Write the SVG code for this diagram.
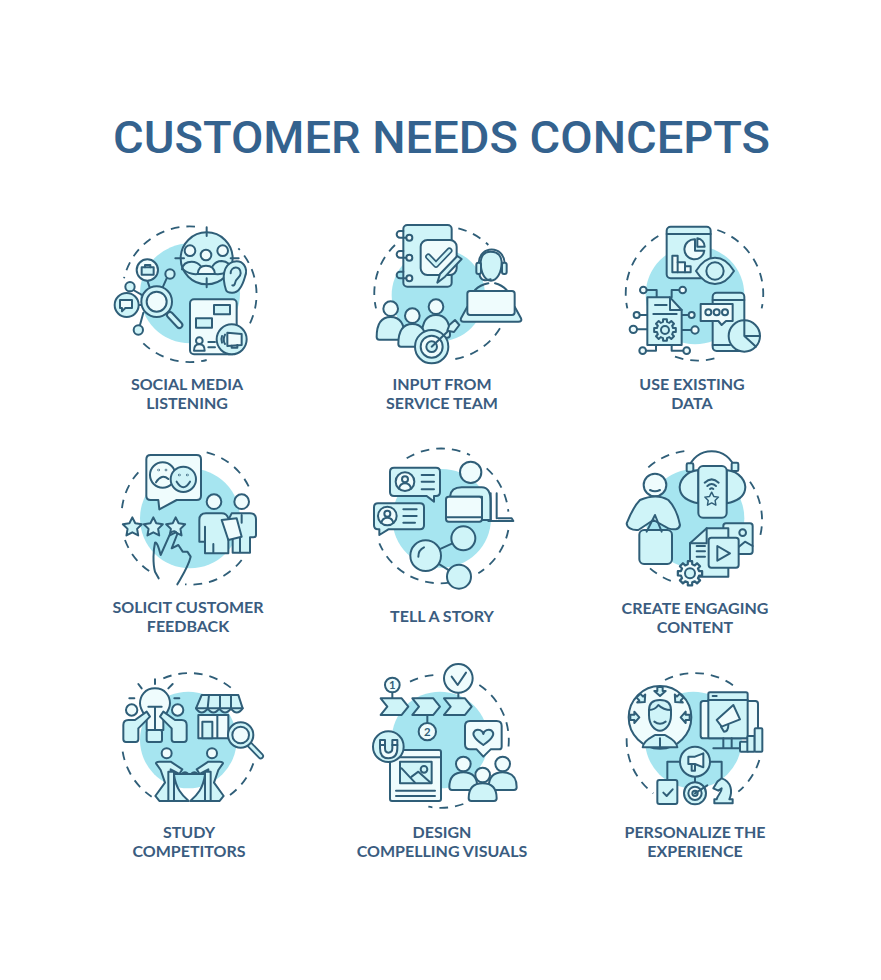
<svg xmlns="http://www.w3.org/2000/svg" xmlns:xlink="http://www.w3.org/1999/xlink" width="881" height="980" viewBox="0 0 881 980">
<style>
.t{font-family:Roboto,"Liberation Sans",sans-serif;font-weight:500;font-size:45px;fill:#34628e;text-anchor:middle}
.c{font-family:Lato,"Liberation Sans",sans-serif;font-weight:700;font-size:16px;fill:#3a5c80;text-anchor:middle}
.i{fill:none;stroke:#2f5e78;stroke-width:6;stroke-linecap:round;stroke-linejoin:round}
.bg{fill:#a6e5f0;stroke:none}
.l{fill:#cff4f8}
.w{fill:#effcfd}
.d{stroke-dasharray:26 21;stroke-linecap:butt;stroke-width:5.500}
.n{font-family:Lato,"Liberation Sans",sans-serif;font-weight:700;font-size:34px;fill:#2f5e78;stroke:none;text-anchor:middle}
.h{stroke:#cff4f8;stroke-width:9}
</style>
<defs>
<path id="gear" d="M32.5 -5.7L32.5 5.7L24.3 6L21.4 12.9L27 18.9L18.9 27L12.9 21.4L6 24.3L5.7 32.5L-5.7 32.5L-6 24.3L-12.9 21.4L-18.9 27L-27 18.9L-21.4 12.9L-24.3 6L-32.5 5.7L-32.5 -5.7L-24.3 -6L-21.4 -12.9L-27 -18.9L-18.9 -27L-12.9 -21.4L-6 -24.3L-5.7 -32.5L5.7 -32.5L6 -24.3L12.9 -21.4L18.9 -27L27 -18.9L21.4 -12.9L24.3 -6Z"/>
<path id="star" class="l" d="M0 -30L8.8 -12.1L28.5 -9.3L14.3 4.6L17.6 24.3L0 15L-17.6 24.3L-14.3 4.6L-28.5 -9.3L-8.8 -12.1Z"/>
<g id="pp"><path class="l" d="M-42 50C-42 18 -25 5 0 5C25 5 42 18 42 50Q42 58 34 58H-34Q-42 58 -42 50Z"/><circle class="w" cx="0" cy="-20" r="22"/></g>
<g id="pt"><path class="l" d="M-42 65C-42 22 -25 5 0 5C25 5 42 22 42 65Q42 73 34 73H-34Q-42 73 -42 65Z"/><circle class="w" cx="0" cy="-20" r="22"/></g>
<path id="ar" class="l" d="M-8 -14H8V-2H17L0 13L-17 -2H-8Z"/>
<g id="sit"><path class="l" d="M168 310Q168 305 178 305H212L247 328L238 342L212 328V423H178L166 408L195 368L182 330Z"/><rect class="l" x="205" y="335" width="17" height="88"/><path class="l" d="M222 345C228 385 245 405 266 423H222Z"/></g>
</defs>
<rect width="881" height="980" fill="#ffffff"/>
<text id="title" class="t" x="441.500" y="153" textLength="657" lengthAdjust="spacingAndGlyphs">CUSTOMER NEEDS CONCEPTS</text>

<g id="social-media-listening">
<g class="i" transform="translate(100 210) scale(.33333)">
<circle class="bg" cx="270" cy="250" r="150"/>
<path class="d" d="M450 340A202 202 0 0 0 415 115M285 50A202 202 0 0 0 72 205M130 400A202 202 0 0 0 320 450"/>
<circle class="l" cx="320" cy="145" r="78"/>
<path d="M320 52V78M320 205V232M226 145H252M392 145H416"/>
<circle class="w" cx="270" cy="122" r="16"/><circle class="w" cx="318" cy="135" r="16"/><circle class="w" cx="368" cy="122" r="16"/>
<path d="M246 178Q250 155 275 155Q292 155 302 168M338 168Q348 153 365 153Q390 155 396 178M248 178Q270 195 293 192M345 192Q375 195 394 178"/>
<path class="w" d="M293 192Q295 167 318 167Q343 167 345 192Z"/>
<path class="l" d="M378 240C365 200 370 165 400 155C430 148 445 175 435 200C428 225 415 250 395 248C387 248 380 246 378 240Z"/>
<path d="M392 190C392 168 422 165 422 190C422 205 405 205 405 220Q403 228 397 226"/>
<path d="M142 212L150 235M200 205L188 232M100 240L128 256M130 308L120 345M116 285L125 285"/>
<path d="M210 315L238 345" style="stroke-width:24"/><path d="M210 315L238 345" style="stroke:#cff4f8;stroke-width:12"/>
<circle class="l" cx="170" cy="275" r="46"/><circle class="w" cx="170" cy="275" r="30"/>
<circle class="w" cx="142" cy="180" r="32"/><path class="l" d="M125 172H161V194H125Z"/><path d="M135 172V165H151V172"/>
<circle class="l" cx="210" cy="192" r="14"/><circle class="l" cx="90" cy="230" r="14"/><circle class="l" cx="115" cy="360" r="14"/>
<circle class="l" cx="80" cy="285" r="36"/><path class="w" d="M60 270H96V294H76L66 304V294H60Z"/>
<rect class="w" x="270" y="268" width="140" height="165" rx="12"/>
<rect class="l" x="342" y="285" width="48" height="28"/><rect class="l" x="288" y="325" width="48" height="28"/>
<circle cx="298" cy="392" r="10"/><path d="M282 422Q282 403 298 403Q314 403 314 422Z"/><path d="M325 396H345M325 412H345"/>
<circle class="l" cx="395" cy="388" r="45"/>
<path class="w" d="M382 368L425 372V405L382 408Z"/><path d="M375 374Q367 388 375 402M366 378Q362 388 366 398M395 407V413H412V405"/>
</g>
<text class="c" x="187" y="390">SOCIAL MEDIA</text><text class="c" x="187" y="409">LISTENING</text>
</g>

<g id="input-from-service-team">
<g class="i" transform="translate(360 210) scale(.33333)">
<circle class="bg" cx="235" cy="255" r="140"/>
<path class="d" d="M295 55A200 200 0 0 1 385 105M105 105A200 200 0 0 0 48 295M420 355A200 200 0 0 1 280 448"/>
<rect class="l" x="130" y="45" width="145" height="185" rx="12"/>
<path d="M130 63H120A10 10 0 0 0 120 83H139M130 123H120A10 10 0 0 0 120 143H139M130 185H120A10 10 0 0 0 120 205H139"/>
<circle class="w" cx="148" cy="83" r="9"/><circle class="w" cx="148" cy="143" r="9"/><circle class="w" cx="148" cy="205" r="9"/>
<rect class="w" x="182" y="90" width="108" height="105" rx="20"/>
<path d="M205 140L228 164L268 122" style="stroke-width:19"/><path d="M205 140L228 164L268 122" class="h"/>
<path class="l" d="M305 147L255 200L232 218L240 192L292 138Z"/>
<path d="M345 240Q360 225 385 220M440 240Q425 225 405 220"/>
<path class="l" d="M362 155Q365 125 392 125Q422 125 425 155C425 190 410 212 393 212C375 212 362 190 362 155Z"/>
<path d="M356 160C358 105 432 105 434 160M358 192C362 215 378 212 392 208"/>
<rect class="l" x="349" y="158" width="14" height="34" rx="6"/><rect class="l" x="426" y="158" width="14" height="34" rx="6"/>
<path class="l" d="M322 290L303 325Q300 335 311 335H475Q487 335 483 325L464 290Z"/>
<rect class="w" x="322" y="243" width="142" height="72" rx="8"/>
<use xlink:href="#pt" href="#pt" x="92" y="316"/><use xlink:href="#pt" href="#pt" x="228" y="310"/><use xlink:href="#pt" href="#pt" x="157" y="337"/>
<circle class="l" cx="215" cy="410" r="50"/><circle class="w" cx="215" cy="410" r="33"/><circle class="l" cx="215" cy="410" r="16"/>
<path d="M215 410L278 350"/><path class="l" d="M268 345L285 330L298 345L282 366L262 362Z"/>
</g>
<text class="c" x="442" y="390">INPUT FROM</text><text class="c" x="442" y="409">SERVICE TEAM</text>
</g>

<g id="use-existing-data">
<g class="i" transform="translate(360 210) scale(.33333)">
<circle class="bg" cx="1005" cy="255" r="148"/>
<path class="d" d="M895 78A202 202 0 0 0 802 295M1072 60A202 202 0 0 1 1205 295M945 440A202 202 0 0 0 1065 445"/>
<rect class="l" x="920" y="50" width="132" height="155" rx="12"/><path d="M920 72H1052"/>
<path class="w" d="M1005 88A30 30 0 1 0 1033 122H1005Z"/><path class="w" d="M1012 85A25 25 0 0 1 1034 110H1012Z"/>
<path class="w" d="M937 137V187H992V169H975V157H953V137Z"/><path d="M953 157V187M975 169V187"/>
<path class="l" d="M1008 183C1040 130 1090 130 1122 183C1090 235 1040 235 1008 183Z"/><circle class="l" cx="1065" cy="183" r="26"/>
<path d="M860 240H890V262M958 240H935V262M965 315H986M965 360H994M839 315H862M831 358H862M858 422H888V405M970 422H935V405"/>
<circle class="w" cx="850" cy="240" r="10"/><circle class="w" cx="968" cy="240" r="10"/><circle class="w" cx="995" cy="315" r="9"/><circle class="w" cx="1005" cy="360" r="11"/><circle class="w" cx="830" cy="315" r="9"/><circle class="w" cx="820" cy="358" r="11"/><circle class="w" cx="848" cy="422" r="10"/><circle class="w" cx="980" cy="422" r="10"/>
<path class="l" d="M862 262H930L965 300V405H862Z"/><path d="M930 262V300H965M885 285H920M880 312H950"/>
<use xlink:href="#gear" href="#gear" x="915" y="360"/><circle cx="915" cy="360" r="12"/>
<rect class="l" x="1058" y="248" width="95" height="175" rx="12"/><path d="M1058 270H1153M1058 405H1110"/>
<path class="w" d="M1022 282H1118V333H1098L1085 345L1075 333H1022Z"/>
<circle cx="1045" cy="307" r="9"/><circle cx="1070" cy="307" r="9"/><circle cx="1095" cy="307" r="9"/>
<circle class="l" cx="1153" cy="378" r="47"/><path d="M1153 378V332M1153 378H1200M1153 378L1188 410"/>
</g>
<text class="c" x="692" y="390">USE EXISTING</text><text class="c" x="692" y="409">DATA</text>
</g>

<g id="solicit-customer-feedback">
<g class="i" transform="translate(100 440) scale(.33333)">
<circle class="bg" cx="270" cy="235" r="150"/>
<path class="d" d="M320 37A192 192 0 0 1 450 148M115 97A192 192 0 0 0 65 215M75 300A192 192 0 0 0 150 395M425 360A192 192 0 0 1 255 433"/>
<path class="w" d="M152 45H290Q303 45 303 58V167Q303 180 290 180H230L178 208L175 180H152Q139 180 139 167V58Q139 45 152 45Z"/>
<circle class="w" cx="188" cy="105" r="38"/><path d="M168 127Q185 100 205 117"/><circle cx="176" cy="90" r="1"/><circle cx="198" cy="90" r="1"/>
<circle class="l" cx="250" cy="118" r="38"/><path d="M230 125Q250 158 270 125"/><circle cx="238" cy="105" r="1"/><circle cx="262" cy="105" r="1"/>
<use xlink:href="#star" href="#star" x="97" y="262"/><use xlink:href="#star" href="#star" x="160" y="262"/><use xlink:href="#star" href="#star" x="227" y="262"/>
<path d="M176 415L165 395C158 370 160 330 165 308C172 305 178 330 182 345L212 278Q225 268 232 282L215 325L235 315L248 335L262 335L272 350C265 380 245 410 232 433"/>
<circle class="w" cx="342" cy="185" r="22"/><circle class="w" cx="425" cy="185" r="22"/>
<path class="l" d="M395 220H450Q468 220 468 238V285Q468 292 460 292H450V338H398V295H385V240Z"/>
<path d="M425 225V248M420 295V335"/>
<path class="l" d="M298 305V240Q298 220 318 220H365Q380 220 385 235V340H315V305Z"/>
<path d="M315 260V305M340 312V338"/>
<path class="w" d="M365 240L410 235L425 290L385 300Z"/>
</g>
<text class="c" x="188" y="613">SOLICIT CUSTOMER</text><text class="c" x="188" y="632">FEEDBACK</text>
</g>

<g id="tell-a-story">
<g class="i" transform="translate(360 440) scale(.33333)">
<circle class="bg" cx="245" cy="235" r="148"/>
<path class="d" d="M140 55A198 198 0 0 1 330 45M380 85A198 198 0 0 1 445 215M445 270A198 198 0 0 1 355 400M268 428A198 198 0 0 1 58 310"/>
<path class="l" d="M102 83H228Q240 83 240 95V156Q240 168 228 168H222L222 185L200 168H102Q90 168 90 156V95Q90 83 102 83Z"/>
<circle class="w" cx="135" cy="125" r="28"/><circle cx="135" cy="118" r="9"/><path d="M117 146Q120 130 135 130Q150 130 153 146M185 105H222M185 125H222M185 148H222"/>
<path class="l" d="M54 190H180Q192 190 192 202V256Q192 268 180 268H85L58 285V268H54Q42 268 42 256V202Q42 190 54 190Z"/>
<circle class="w" cx="82" cy="228" r="28"/><circle cx="82" cy="221" r="9"/><path d="M64 249Q67 233 82 233Q97 233 100 249M130 208H170M130 228H170M130 248H165"/>
<circle class="w" cx="332" cy="97" r="32"/>
<path class="l" d="M270 170C272 150 285 142 305 142H365C385 142 392 160 392 185V240H366V170Z"/>
<path d="M392 160V240M410 160V235M385 243H460L455 235H415"/>
<rect class="w" x="258" y="170" width="108" height="75" rx="8"/><path d="M258 232H366"/>
<path d="M197 347L310 295M197 347L297 410"/>
<circle class="l" cx="197" cy="347" r="46"/><path d="M175 350Q175 330 192 322"/>
<circle class="l" cx="310" cy="295" r="36"/><circle class="l" cx="297" cy="410" r="36"/>
</g>
<text class="c" x="442" y="622">TELL A STORY</text>
</g>

<g id="create-engaging-content">
<g class="i" transform="translate(360 440) scale(.33333)">
<circle class="bg" cx="1005" cy="235" r="148"/>
<path class="d" d="M865 82A202 202 0 0 1 990 32M1170 125A202 202 0 0 1 1200 290M870 385A202 202 0 0 0 940 425"/>
<path d="M985 90C1000 15 1110 15 1125 90"/>
<rect class="l" x="980" y="70" width="20" height="25" rx="4"/><rect class="l" x="1115" y="68" width="20" height="25" rx="4"/>
<path class="l" d="M1015 90C975 95 955 125 960 150C965 175 990 185 1015 190Z"/><path class="l" d="M1100 90C1140 95 1160 125 1155 150C1150 175 1125 185 1100 190Z"/>
<rect class="l" x="1015" y="78" width="85" height="155" rx="14"/>
<path d="M1034 128Q1055 108 1076 128M1042 138Q1055 126 1068 138M1050 147Q1055 143 1060 147"/>
<use xlink:href="#star" href="#star" transform="translate(1055 178) scale(.72)"/>
<circle class="w" cx="885" cy="135" r="34"/><path d="M870 150Q885 158 900 150"/>
<path class="l" d="M840 180C875 165 900 165 925 180C945 200 955 230 960 255C958 270 940 270 925 265L880 240L835 270C815 272 800 262 800 250C810 225 820 200 840 180Z"/>
<rect class="l" x="838" y="270" width="98" height="102" rx="14"/>
<path d="M860 275L885 225L905 275"/>
<rect class="l" x="1090" y="250" width="88" height="92" rx="8"/><circle cx="1148" cy="278" r="10"/><path d="M1135 322L1155 305L1178 318"/>
<path class="l" d="M1040 265H1105V410H990V310Z"/><path d="M1040 265V310H990M1010 318H1035M1010 334H1035M1010 350H1035"/>
<rect class="l" x="1046" y="293" width="90" height="90" rx="8"/><path d="M1072 318V362L1110 340Z"/>
<use xlink:href="#gear" href="#gear" class="w" transform="translate(990 400) scale(1.12)"/><circle class="l" cx="990" cy="400" r="15"/>
</g>
<text class="c" x="695" y="614">CREATE ENGAGING</text><text class="c" x="695" y="633">CONTENT</text>
</g>

<g id="study-competitors">
<g class="i" transform="translate(100 660) scale(.33333)">
<circle class="bg" cx="265" cy="240" r="145"/>
<path class="d" d="M190 55A200 200 0 0 1 395 85M68 275A200 200 0 0 0 155 410M460 310A200 200 0 0 1 390 405"/>
<path d="M165 58V72M115 72L125 85M218 72L205 85M88 115H103M223 115H238"/>
<path class="w" d="M165 85C135 85 120 108 120 130C120 150 135 165 140 175V210H190V175C195 165 210 150 210 130C210 108 195 85 165 85Z"/>
<rect class="l" x="140" y="210" width="46" height="36" rx="6"/><path d="M145 140H185M165 140V210"/>
<circle class="w" cx="95" cy="150" r="17"/><circle class="w" cx="233" cy="150" r="17"/>
<path class="l" d="M70 238V195Q70 180 85 180H105L140 155L150 170L115 205V238Q115 246 107 246H78Q70 246 70 238Z"/>
<path class="l" d="M260 238V195Q260 180 245 180H225L190 155L180 170L215 205V238Q215 246 223 246H252Q260 246 260 238Z"/>
<path class="w" d="M295 165V235H352V165ZM352 235H385V165H352Z"/>
<rect class="l" x="307" y="185" width="30" height="50"/>
<path class="l" d="M305 105H415L428 145Q410 170 393 145Q375 170 358 145Q340 170 323 145Q305 170 288 145Z"/><path d="M288 145H428M327 105L323 145M360 105V145M393 105L393 145"/>
<path d="M450 255L482 288" style="stroke-width:20"/><path d="M450 255L482 288" style="stroke:#cff4f8;stroke-width:9"/>
<circle class="l" cx="422" cy="225" r="38"/><circle class="w" cx="422" cy="225" r="25"/>
<circle class="w" cx="200" cy="280" r="15"/><circle class="w" cx="336" cy="280" r="15"/>
<path d="M222 342H315M245 342Q255 332 265 342M273 342Q283 332 293 342"/>
<use xlink:href="#sit" href="#sit"/>
<use xlink:href="#sit" href="#sit" transform="translate(537 0) scale(-1 1)"/>
</g>
<text class="c" x="189" y="838">STUDY</text><text class="c" x="189" y="857">COMPETITORS</text>
</g>

<g id="design-compelling-visuals">
<g class="i" transform="translate(360 660) scale(.33333)">
<circle class="bg" cx="240" cy="240" r="145"/>
<path class="d" d="M150 65A200 200 0 0 1 225 45M358 75A200 200 0 0 1 445 265M310 432A200 200 0 0 1 205 440"/>
<path d="M97 97V135M202 140V190M295 98V140"/>
<path class="l" d="M62 115H125L145 140L125 165H62L82 140Z"/>
<path class="l" d="M157 115H220L240 140L220 165H157L177 140Z"/>
<path class="l" d="M252 115H315L335 140L315 165H252L272 140Z"/>
<circle class="w" cx="97" cy="75" r="22"/><text class="n" x="97" y="87">1</text>
<circle class="w" cx="202" cy="215" r="26"/><text class="n" x="202" y="227">2</text>
<circle class="w" cx="295" cy="55" r="43"/><path d="M275 50L293 75L318 38"/>
<rect class="w" x="90" y="270" width="153" height="153" rx="6"/><path d="M90 292H243"/>
<rect class="l" x="120" y="305" width="95" height="65"/><circle cx="192" cy="328" r="10"/><path d="M125 325L165 368M155 350L175 335L212 368"/>
<path d="M108 392H225M108 408H225"/>
<circle class="l" cx="85" cy="260" r="46"/>
<path class="w" d="M60 240H75V265Q75 278 85 278Q97 278 97 265V240H112V265Q112 295 85 295Q60 295 60 265Z"/><path d="M60 255H75M97 255H112"/>
<path class="w" d="M330 183H410Q425 183 425 198V260Q425 268 417 268H392L370 290L350 268H330Q315 268 315 253V198Q315 183 330 183Z"/>
<path class="l" d="M370 255C340 235 335 220 345 212C355 205 368 212 370 222C372 212 385 205 395 212C405 220 400 235 370 255Z"/>
<use xlink:href="#pp" href="#pp" x="310" y="332"/><use xlink:href="#pp" href="#pp" x="428" y="332"/><use xlink:href="#pp" href="#pp" x="368" y="365"/>
</g>
<text class="c" x="442" y="838">DESIGN</text><text class="c" x="442" y="857">COMPELLING VISUALS</text>
</g>

<g id="personalize-the-experience">
<g class="i" transform="translate(360 660) scale(.33333)">
<circle class="bg" cx="1000" cy="240" r="145"/>
<path class="d" d="M915 60A200 200 0 0 1 1125 80M800 235A200 200 0 0 0 880 400M1198 300A200 200 0 0 1 1135 395"/>
<circle class="w" cx="900" cy="172" r="94"/>
<use xlink:href="#ar" href="#ar" transform="translate(900 95)"/><use xlink:href="#ar" href="#ar" transform="translate(845 117) rotate(-45)"/><use xlink:href="#ar" href="#ar" transform="translate(955 117) rotate(45)"/><use xlink:href="#ar" href="#ar" transform="translate(825 172) rotate(-90)"/><use xlink:href="#ar" href="#ar" transform="translate(975 172) rotate(90)"/>
<path class="l" d="M848 262C850 240 875 232 885 225H915C925 232 950 240 952 262Z"/><path d="M900 235V262"/>
<path class="l" d="M867 150C867 125 885 120 900 120C915 120 933 125 933 150V165C933 195 915 212 900 212C885 212 867 195 867 165Z"/>
<path d="M867 150Q885 150 895 135Q910 150 933 150M883 185Q900 198 917 185"/>
<rect class="w" x="1022" y="123" width="172" height="112" rx="8"/>
<rect class="l" x="1045" y="97" width="118" height="138" rx="5"/><path d="M1045 120H1163M1058 108H1070"/>
<path class="w" d="M1120 135L1140 178L1085 200L1070 180Z"/><path d="M1083 200L1092 215Q1105 215 1105 195"/>
<path d="M1090 235V265M1115 235V265M1060 265H1140"/>
<rect class="l" x="1140" y="245" width="25" height="30" rx="3"/><rect class="l" x="1162" y="228" width="22" height="47" rx="3"/><rect class="l" x="1184" y="205" width="23" height="70" rx="3"/>
<path d="M960 305H922V360M1050 305H1085V360M1005 350V367"/>
<circle class="l" cx="1005" cy="305" r="45"/><path class="w" d="M985 290H1005L1030 280V322L1005 312H985Z"/><path d="M995 312V332H1005V314"/>
<rect class="l" x="892" y="360" width="60" height="72" rx="6"/><path d="M910 398L920 408L938 388"/>
<circle class="l" cx="1005" cy="400" r="33"/><circle class="w" cx="1005" cy="400" r="20"/><circle class="l" cx="1005" cy="400" r="8"/><path d="M1005 400L1042 376"/>
<path class="l" d="M1063 430H1118V418H1108C1118 395 1115 365 1085 355L1072 365L1060 385L1075 392L1085 385C1085 400 1072 405 1070 418H1063Z"/>
</g>
<text class="c" x="695" y="838">PERSONALIZE THE</text><text class="c" x="695" y="857">EXPERIENCE</text>
</g>
</svg>
